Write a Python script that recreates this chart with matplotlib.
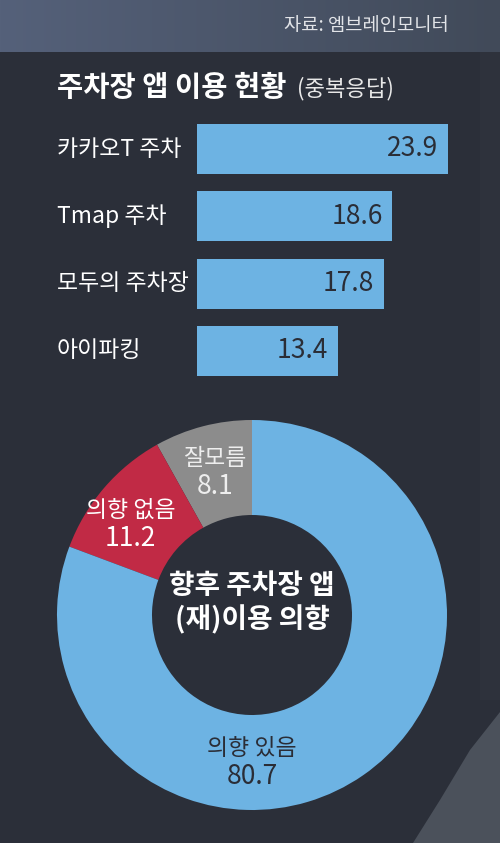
import numpy as np
import matplotlib
matplotlib.use("Agg")
import matplotlib.pyplot as plt
from matplotlib import transforms
from matplotlib.patches import Polygon

plt.rcParams['font.family'] = ['Noto Sans CJK KR', 'DejaVu Sans']

# ---- data ----
apps = ['카카오T 주차', 'Tmap 주차', '모두의 주차장', '아이파킹']
app_share = [23.9, 18.6, 17.8, 13.4]

intent_labels = ['잘모름', '의향 없음', '의향 있음']
intent_share = [8.1, 11.2, 80.7]

title = '주차장 앱 이용 현황'
subtitle = '(중복응답)'
source = '자료: 엠브레인모니터'
center_text = '향후 주차장 앱\n(재)이용 의향'

# ---- style ----
BG = '#2b2f39'
BLUE = '#6db3e3'
RED = '#c12a45'
GREY = '#8c8c8c'
DARK = '#2a2d36'
W, H = 500, 843

fig = plt.figure(figsize=(W / 100, H / 100), dpi=100)
fig.patch.set_facecolor(BG)

def fx(px):
    return px / W

def fy(py):
    return 1 - py / H

# background decoration (header band + photo edge)
bg = fig.add_axes([0, 0, 1, 1])
bg.set_xlim(0, W)
bg.set_ylim(H, 0)
bg.axis('off')
grad = np.linspace(0, 1, 256).reshape(1, -1)
bg.imshow(grad, extent=[0, W, 52, 0], aspect='auto',
          cmap=matplotlib.colors.LinearSegmentedColormap.from_list('hd', ['#55617a', '#414a59']))
bg.add_patch(Polygon([[480, 52], [W, 52], [W, 700], [480, 700]], closed=True,
                     color='#2e323c', lw=0))
bg.add_patch(Polygon([[W, 712], [W, H], [413, H], [440, 800], [470, 750]], closed=True,
                     color='#4b515b', lw=0))
bg.text(449, 25, source, ha='right', va='center', fontsize=13.5, color='#e2e4e8')
bg.text(57, 88, title, ha='left', va='center', fontsize=20.5, fontweight='bold', color='white')
bg.text(297, 89, subtitle, ha='left', va='center', fontsize=16, color='#e8e8e8')

# ---- bar chart ----
px_per_unit = 10.5
slot = 67.33
bar_top = 149 - slot / 2
ax = fig.add_axes([fx(197), fy(bar_top + 4 * slot), fx(W - 197), 4 * slot / H])
ax.set_xlim(0, (W - 197) / px_per_unit)
ax.set_ylim(3.5, -0.5)
ax.axis('off')
ypos = np.arange(len(apps))
ax.barh(ypos, app_share, height=50 / slot, color=BLUE, edgecolor='none')
lab_tr = transforms.blended_transform_factory(fig.transFigure, ax.transData)
for y, name, v in zip(ypos, apps, app_share):
    ax.text(fx(57), y, name, transform=lab_tr, ha='left', va='center',
            fontsize=16.5, color='white')
    ax.text(v - 0.9, y, f'{v}', ha='right', va='center', fontsize=19, color=DARK)

# ---- donut ----
R = 195
cx, cy = 252, 615
pax = fig.add_axes([fx(cx - R), fy(cy + R), 2 * R / W, 2 * R / H])
wedges, _ = pax.pie(intent_share, colors=[GREY, RED, BLUE], startangle=90,
                    counterclock=True, radius=1,
                    wedgeprops=dict(width=95 / R, edgecolor='none'))
pax.set_xlim(-1, 1)
pax.set_ylim(-1, 1)
pax.set_aspect('equal')
text_cols = ['#eeeeee', 'white', DARK]
for i, (w, name, v) in enumerate(zip(wedges, intent_labels, intent_share)):
    ang = (w.theta1 + w.theta2) / 2
    r_lab = 0.755
    if name == '의향 있음':
        ang = 270
    elif name == '의향 없음':
        ang += 4
        r_lab = 0.775
    x = r_lab * np.cos(np.radians(ang))
    y = r_lab * np.sin(np.radians(ang))
    pax.annotate(name, (x, y), xytext=(0, 10), textcoords='offset points',
                 ha='center', va='center', fontsize=16.5, color=text_cols[i])
    pax.annotate(f'{v}', (x, y), xytext=(0, -10), textcoords='offset points',
                 ha='center', va='center', fontsize=19, color=text_cols[i])
pax.text(0, 0.06, center_text, ha='center', va='center', fontsize=20,
         fontweight='bold', color='white', linespacing=1.2)

fig.savefig('out.png', dpi=100, facecolor=BG)
